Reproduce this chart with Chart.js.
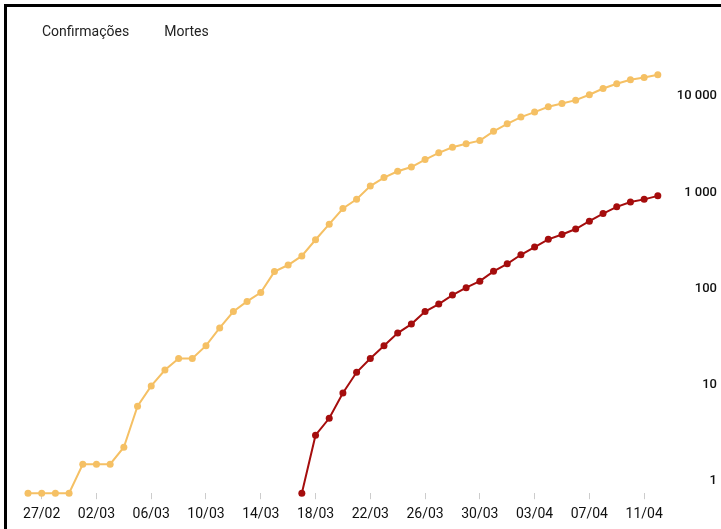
<!DOCTYPE html>
<html>
<head>
<meta charset="utf-8">
<script src="https://cdn.jsdelivr.net/npm/chart.js@4/dist/chart.umd.min.js"></script>
<style>
  html,body{margin:0;padding:0;background:#fff;}
  #wrap{position:relative;width:721px;height:529px;overflow:hidden;}
  #frame{position:absolute;left:4px;top:4px;right:0;bottom:0;border-top:3px solid #000;border-left:3px solid #000;pointer-events:none;}
  canvas{position:absolute;left:0;top:0;}
</style>
</head>
<body>
<div id="wrap">
  <canvas id="chart" width="721" height="529"></canvas>
  <div id="frame"></div>
</div>
<script>
// dias de 26/02 a 12/04
const days = [
  '26/02','27/02','28/02','29/02',
  '01/03','02/03','03/03','04/03','05/03','06/03','07/03','08/03','09/03','10/03',
  '11/03','12/03','13/03','14/03','15/03','16/03','17/03','18/03','19/03','20/03',
  '21/03','22/03','23/03','24/03','25/03','26/03','27/03','28/03','29/03','30/03','31/03',
  '01/04','02/04','03/04','04/04','05/04','06/04','07/04','08/04','09/04','10/04','11/04','12/04'
];
const confirmados = [
  1,1,1,1,
  2,2,2,3,8,13,19,25,25,34,
  52,77,98,121,200,234,291,428,621,904,
  1128,1546,1891,2201,2433,2915,3417,3904,4256,4579,5717,
  6836,8044,9056,10278,11130,12056,13717,15927,17857,19638,20727,22169
];
const mortes = [
  null,null,null,null,
  null,null,null,null,null,null,null,null,null,null,
  null,null,null,null,null,null,1,4,6,11,
  18,25,34,46,57,77,92,114,136,159,201,
  241,299,359,432,486,553,667,800,941,1057,1124,1223
];
const yTicks = [1,10,100,1000,10000];

function fmt(v){ return String(v).replace(/\B(?=(\d{3})+(?!\d))/g,' '); }

// espaço extra entre a legenda e o gráfico
const legendGap = {
  id:'legendGap',
  beforeInit(chart){
    const fit = chart.legend.fit;
    chart.legend.fit = function(){ fit.call(this); this.height += 13; };
  }
};

const ctx = document.getElementById('chart').getContext('2d');
new Chart(ctx, {
  type:'line',
  data:{
    labels:days,
    datasets:[
      {label:'Confirmações', data:confirmados, borderColor:'#f5c064', backgroundColor:'#f5c064',
       borderWidth:2, pointRadius:3.5, pointBorderWidth:0, tension:0, clip:false},
      {label:'Mortes', data:mortes, borderColor:'#a50d0d', backgroundColor:'#a50d0d',
       borderWidth:2, pointRadius:3.5, pointBorderWidth:0, tension:0, clip:false}
    ]
  },
  options:{
    responsive:false, animation:false,
    layout:{padding:{left:7, right:4, top:-3, bottom:-1}},
    plugins:{
      tooltip:{enabled:false},
      legend:{
        position:'top', align:'start',
        labels:{
          boxWidth:0, padding:28, color:'#222',
          font:{family:'Roboto', size:14},
          generateLabels(chart){
            return chart.data.datasets.map((d,i)=>({text:d.label, fillStyle:'rgba(0,0,0,0)', strokeStyle:'rgba(0,0,0,0)', lineWidth:0, datasetIndex:i, fontColor:'#222'}));
          }
        }
      }
    },
    scales:{
      x:{
        offset:false,
        border:{display:false},
        grid:{drawOnChartArea:false, drawTicks:true, tickLength:6, color:'#ccc', lineWidth:1},
        afterFit(s){ s.paddingLeft = 28; },
        ticks:{autoSkip:false, maxRotation:0, padding:7, color:'#111', font:{family:'Roboto', size:14},
          callback(v,i){ return i % 4 === 1 ? days[i] : null; }}
      },
      y:{
        type:'logarithmic', position:'right', min:1, max:30000,
        border:{display:false},
        grid:{display:false, drawTicks:false},
        afterBuildTicks(axis){ axis.ticks = yTicks.map(v=>({value:v})); },
        ticks:{crossAlign:'far', padding:9.5, labelOffset:-12, color:'#111', font:{family:'Roboto', size:13, weight:'500'},
          callback(v){ return fmt(v); }}
      }
    }
  },
  plugins:[legendGap]
});
</script>
</body>
</html>
